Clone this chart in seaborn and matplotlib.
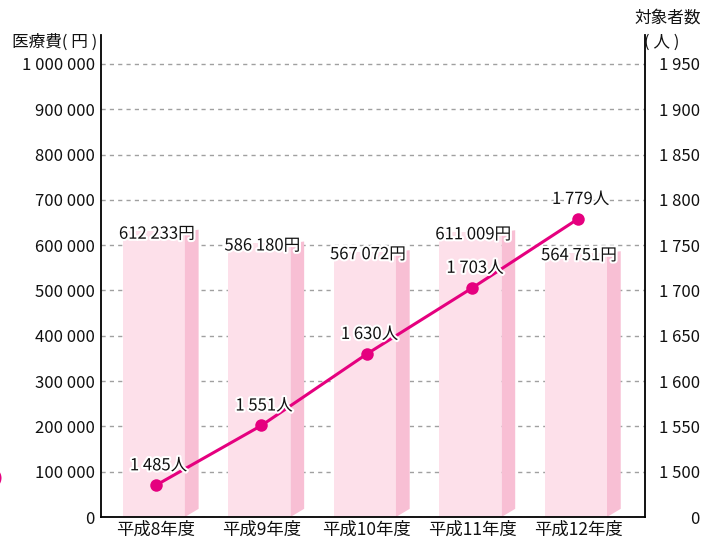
import numpy as np
import pandas as pd
import matplotlib
matplotlib.use("Agg")
import matplotlib.pyplot as plt
import matplotlib.patheffects as pe
from matplotlib.patches import Polygon, Ellipse
import seaborn as sns

# ---- data ----
categories = ["平成8年度", "平成9年度", "平成10年度", "平成11年度", "平成12年度"]
cost_values = [612233, 586180, 567072, 611009, 564751]
people_values = [1485, 1551, 1630, 1703, 1779]
left_ticks = [0, 100000, 200000, 300000, 400000, 500000, 600000, 700000, 800000, 900000, 1000000]
right_ticks = [1450, 1500, 1550, 1600, 1650, 1700, 1750, 1800, 1850, 1900, 1950]

def fmt(v):
    return f"{v:,}".replace(",", " ")

sns.set_theme(style="white")
plt.rcParams["font.family"] = ["Noto Sans CJK JP", "DejaVu Sans"]

FRONT = "#fde0ea"
SIDE = "#f8bfd4"
LINE = "#e5007f"

fig = plt.figure(figsize=(7.05, 5.43), dpi=100)
ax = fig.add_axes([101 / 705, 26 / 543, 544 / 705, 482 / 543])

df = pd.DataFrame({"cat": categories, "cost": cost_values})
sns.barplot(data=df, x="cat", y="cost", ax=ax, color=FRONT, width=0.59,
            saturation=1, edgecolor="none", linewidth=0, zorder=2)

dx = 0.13
dy = 18000
for p, v in zip(ax.patches, cost_values):
    p.set_x(p.get_x() - 0.02)
    x0 = p.get_x()
    x1 = x0 + p.get_width()
    # top face (3D depth)
    ax.add_patch(Polygon([(x0, v - 1), (x1, v - 1), (x1, v + dy), (x0, v + dy)],
                         closed=True, facecolor=FRONT, edgecolor="none", zorder=2))
    # side face
    ax.add_patch(Polygon([(x1, 0), (x1 + dx, dy), (x1 + dx, v + dy + 4000), (x1, v + dy)],
                         closed=True, facecolor=SIDE, edgecolor="none", zorder=2))

for i, v in enumerate(cost_values):
    ax.text(i + 0.01, v + 12000, fmt(v) + "円", ha="center", va="center",
            fontsize=12, color="#111111", zorder=5,
            path_effects=[pe.withStroke(linewidth=3, foreground="white")])

ax.set_xlim(-0.52, 4.635)
ax.set_ylim(0, 1064000)
ax.set_yticks(left_ticks)
ax.set_yticklabels([fmt(t) for t in left_ticks])
ax.set_xlabel("")
ax.set_ylabel("")
ax.yaxis.grid(True, linestyle=(0, (3, 3)), color="#a0a0a0", linewidth=1)
ax.xaxis.grid(False)
ax.set_axisbelow(True)
ax.tick_params(axis="y", length=0, pad=4.5, labelsize=12, labelcolor="#111111")
ax.tick_params(axis="x", length=0, pad=3, labelsize=12.5, labelcolor="#111111")
for s in ["left", "right", "bottom"]:
    ax.spines[s].set_visible(True)
    ax.spines[s].set_color("black")
    ax.spines[s].set_linewidth(1.3)
ax.spines["top"].set_visible(False)

# right axis: people (broken scale 0 / 1500..1950)
ax2 = ax.twinx()
ax2.set_ylim(1450, 1450 + 1064000 / 2000)
pdf = pd.DataFrame({"x": np.arange(len(categories)), "people": people_values})
sns.lineplot(data=pdf, x="x", y="people", ax=ax2, color=LINE, linewidth=2.2,
             marker="o", markersize=9, markeredgewidth=0, zorder=4)
for i, n in enumerate(people_values):
    ax2.annotate(fmt(n) + "人", (i, n), xytext=(2, 14), textcoords="offset points",
                 ha="center", va="center", fontsize=12, color="#111111", zorder=6,
                 path_effects=[pe.withStroke(linewidth=3, foreground="white")])
ax2.set_yticks(right_ticks)
ax2.set_yticklabels(["0"] + [fmt(t) for t in right_ticks[1:]])
ax2.set_ylabel("")
ax2.set_xlabel("")
ax2.grid(False)
ax2.tick_params(axis="y", length=0, pad=39.5, labelsize=12, labelcolor="#111111")
for lab in ax2.get_yticklabels():
    lab.set_horizontalalignment("right")
for s in ["left", "right", "bottom", "top"]:
    ax2.spines[s].set_visible(False)
ax.set_xlim(-0.52, 4.635)

# axis titles
fig.text(97 / 705, 1 - 42 / 543, "医療費( 円 )", ha="right", va="center", fontsize=12, color="#111111")
fig.text(668 / 705, 1 - 18 / 543, "対象者数", ha="center", va="center", fontsize=12, color="#111111")
fig.text(662 / 705, 1 - 42 / 543, "( 人 )", ha="center", va="center", fontsize=12, color="#111111")

# cropped marker at left edge
fig.patches.append(Ellipse((-9.5 / 705, 1 - 478 / 543), 22 / 705, 22 / 543,
                           transform=fig.transFigure, facecolor=LINE, edgecolor="none"))

fig.savefig("out.png", dpi=100)
